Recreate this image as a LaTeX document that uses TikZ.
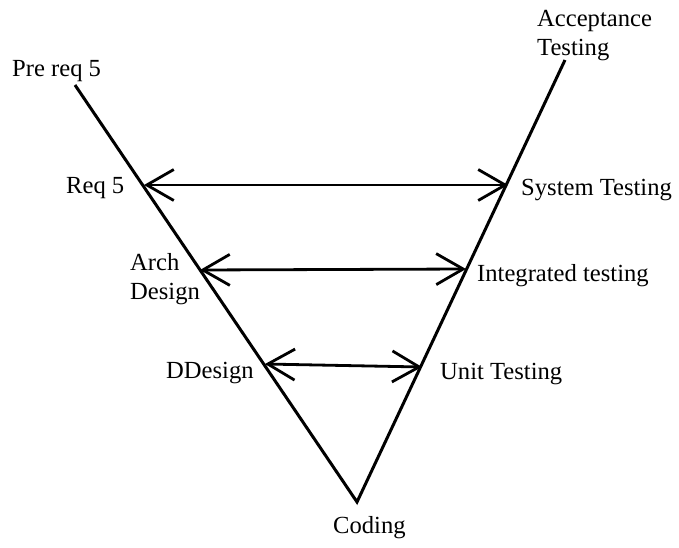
\documentclass[tikz,border=0pt]{standalone}
\usepackage{fontspec}
\setmainfont{Liberation Serif}
\usetikzlibrary{arrows.meta}

\begin{document}
\begin{tikzpicture}[x=1pt, y=-1pt,
	vline/.style={line width=3pt},
	link/.style={line width=2.8pt, {Straight Barb[length=27pt,width=31pt]}-{Straight Barb[length=27pt,width=31pt]}},
	lbl/.style={inner sep=0pt, anchor=west, align=left, font=\fontsize{24.6}{29}\selectfont}]
	\useasboundingbox (0,0) rectangle (679,548);

	% Corners of the V
	\coordinate (lefttop) at (75,85);
	\coordinate (bottom) at (357,502);
	\coordinate (righttop) at (565,60);

	% The two sides
	\draw[vline] (lefttop) -- (bottom) -- (righttop);

	% Ends of the links on each side
	\coordinate (req) at (144,185);
	\coordinate (sys) at (508,185);
	\coordinate (arch) at (200,270);
	\coordinate (integ) at (466,269);
	\coordinate (dd) at (265,364);
	\coordinate (unit) at (422,367);

	% Links between phases
	\draw[link] (req) -- (sys);
	\draw[link] (arch) -- (integ);
	\draw[link] (dd) -- (unit);

	% Labels
	\node[lbl] (prereq) at (12,71) {Pre req 5};
	\node[lbl] (accept) at (537,36) {Acceptance\\Testing};
	\node[lbl] (reqlbl) at (66,188) {Req 5};
	\node[lbl] (archlbl) at (130,279) {Arch\\Design};
	\node[lbl] (ddlbl) at (166,373) {DDesign};
	\node[lbl] (syslbl) at (521,190) {System Testing};
	\node[lbl] (integlbl) at (477,276) {Integrated testing};
	\node[lbl] (unitlbl) at (440,374) {Unit Testing};
	\node[lbl] (coding) at (333,528) {Coding};
\end{tikzpicture}
\end{document}
